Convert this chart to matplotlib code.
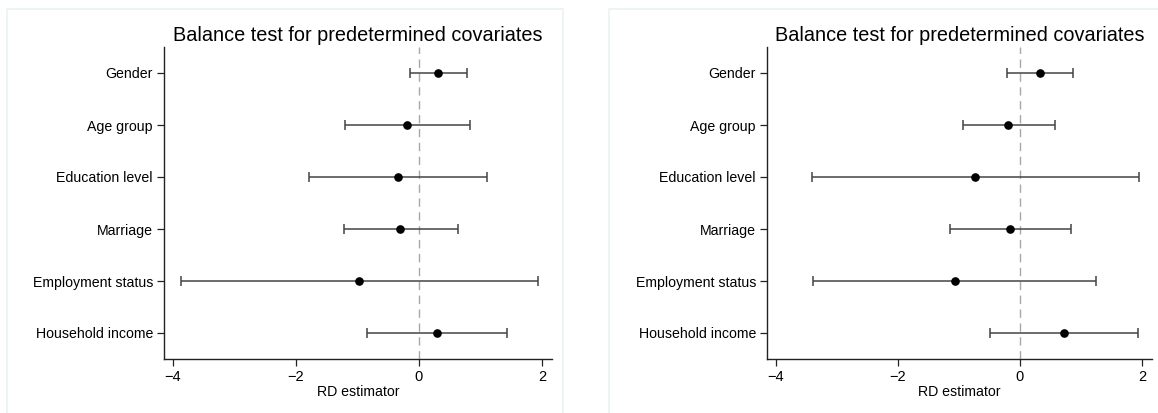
import matplotlib
matplotlib.use('Agg')
import matplotlib.pyplot as plt
import matplotlib.patches as patches

plt.rcParams['font.family'] = ['Liberation Sans', 'DejaVu Sans']

# --- Data: RD estimates with confidence bounds ---
covariates = ["Gender", "Age group", "Education level", "Marriage",
              "Employment status", "Household income"]

est_a = [0.31, -0.19, -0.34, -0.31, -0.98, 0.30]
lo_a = [-0.14, -1.20, -1.78, -1.22, -3.87, -0.85]
hi_a = [0.78, 0.83, 1.11, 0.63, 1.93, 1.43]

est_b = [0.32, -0.19, -0.73, -0.16, -1.07, 0.72]
lo_b = [-0.21, -0.94, -3.40, -1.14, -3.39, -0.49]
hi_b = [0.86, 0.57, 1.95, 0.84, 1.25, 1.93]

xticks = [-4, -2, 0, 2]
xtick_labels = ["\u22124", "\u22122", "0", "2"]

W, H = 1158, 413
fig = plt.figure(figsize=(W / 100, H / 100), dpi=100)
fig.patch.set_facecolor('white')

# faint frames around each graph
for (x0, x1) in [(7, 563), (609, 1165)]:
    fig.patches.append(patches.Rectangle((x0 / W, -0.01), (x1 - x0) / W, 1 - 9 / H + 0.01,
                                         transform=fig.transFigure, facecolor='none',
                                         edgecolor='#eaf2f4', lw=1.2))


def panel(left, right, est, lo, hi):
    ax = fig.add_axes([left / W, 1 - 359 / H, (right - left) / W, (359 - 47) / H])
    ypos = list(range(len(covariates)))
    ax.axvline(0, color='#a8a8a8', lw=1.0, ls=(0, (6, 4)), zorder=1)
    err = [[e - l for e, l in zip(est, lo)], [h - e for e, h in zip(est, hi)]]
    ax.errorbar(est, ypos, xerr=err, fmt='o', color='black', ms=5.2,
                ecolor='#444444', elinewidth=1.1, capsize=3.5, capthick=1.1, zorder=3)
    ax.set_ylim(len(covariates) - 0.5, -0.5)
    ax.set_xlim(-4.14, 2.16)
    ax.set_yticks(ypos)
    ax.set_yticklabels(covariates, fontsize=10.2)
    ax.set_xticks(xticks)
    ax.set_xticklabels(xtick_labels, fontsize=10.5)
    ax.tick_params(axis='both', length=5, width=0.9, color='#222222', pad=3)
    for s in ['top', 'right']:
        ax.spines[s].set_visible(False)
    for s in ['left', 'bottom']:
        ax.spines[s].set_linewidth(1.0)
        ax.spines[s].set_color('#222222')
    ax.set_xlabel("RD estimator", fontsize=10.2, labelpad=1)
    ax.set_title("Balance test for predetermined covariates", fontsize=14.3, pad=4)
    return ax


panel(164, 552, est_a, lo_a, hi_a)
panel(767, 1152, est_b, lo_b, hi_b)

fig.savefig('out.png', dpi=100, facecolor='white')
plt.close()
